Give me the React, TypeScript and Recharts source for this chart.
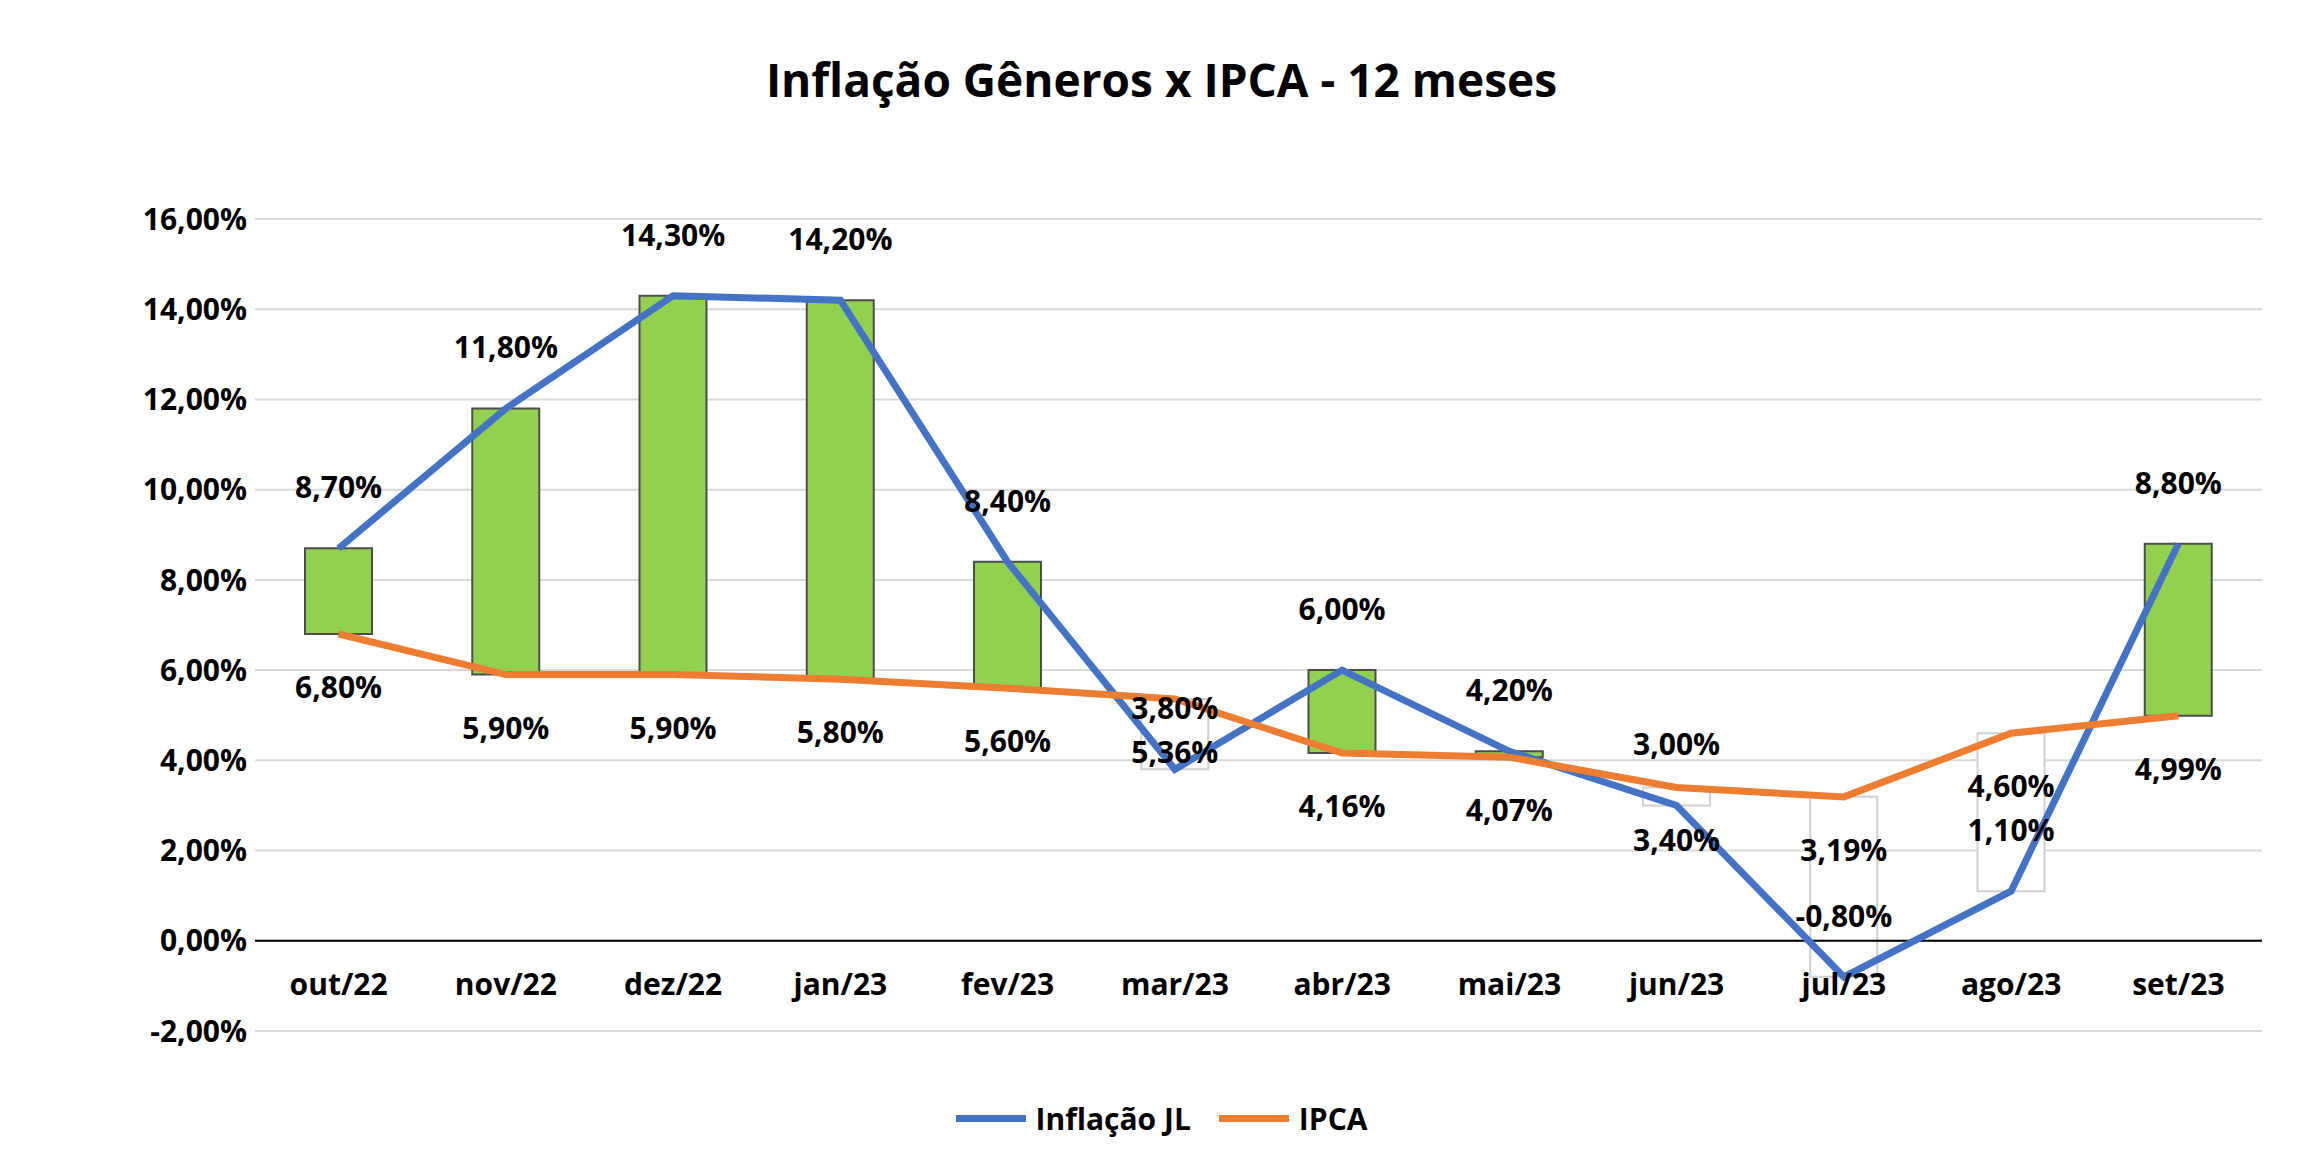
import React from "react";
import {
  ComposedChart,
  Line,
  Bar,
  Cell,
  XAxis,
  YAxis,
  CartesianGrid,
  ReferenceLine,
  LabelList,
} from "recharts";

const months = ["out/22", "nov/22", "dez/22", "jan/23", "fev/23", "mar/23", "abr/23", "mai/23", "jun/23", "jul/23", "ago/23", "set/23"];
const inflacaoJL = [8.7, 11.8, 14.3, 14.2, 8.4, 3.8, 6.0, 4.2, 3.0, -0.8, 1.1, 8.8];
const ipca = [6.8, 5.9, 5.9, 5.8, 5.6, 5.36, 4.16, 4.07, 3.4, 3.19, 4.6, 4.99];
const yTicks = [-2, 0, 2, 4, 6, 8, 10, 12, 14, 16];

const data = months.map((m, i) => ({
  month: m,
  jl: inflacaoJL[i],
  ipca: ipca[i],
  range: [Math.min(inflacaoJL[i], ipca[i]), Math.max(inflacaoJL[i], ipca[i])],
  up: inflacaoJL[i] >= ipca[i],
}));

const FONT = "'Open Sans', 'Liberation Sans', sans-serif";
const fmt = (v: number) => v.toFixed(2).replace(".", ",") + "%";

function makeLabel(dy: number) {
  return (props: any) => {
    const { x, y, value } = props;
    return (
      <text x={x} y={y + dy} textAnchor="middle" dominantBaseline="middle" fontFamily={FONT} fontWeight={700} fontSize={30} fill="#000">
        {fmt(value)}
      </text>
    );
  };
}

function XTick(props: any) {
  const { x, y, payload } = props;
  return (
    <text x={x} y={y - 52} textAnchor="middle" dominantBaseline="middle" fontFamily={FONT} fontWeight={700} fontSize={30} fill="#000">
      {payload.value}
    </text>
  );
}

function Legend() {
  const item = (color: string, label: string) => (
    <div style={{ display: "flex", alignItems: "center", margin: "0 14px" }}>
      <div style={{ width: 70, height: 7, background: color, marginRight: 10 }} />
      <span>{label}</span>
    </div>
  );
  return (
    <div style={{ position: "absolute", top: 1098, left: 0, width: 2323, display: "flex", justifyContent: "center", fontFamily: FONT, fontWeight: 700, fontSize: 30 }}>
      {item("#4472C4", "Inflação JL")}
      {item("#ED7D31", "IPCA")}
    </div>
  );
}

export default function App() {
  document.body.style.margin = "0";
  return (
    <div style={{ position: "relative", width: 2323, height: 1161, background: "#fff" }}>
      <div style={{ position: "absolute", top: 48, width: 2323, textAlign: "center", fontFamily: FONT, fontWeight: 700, fontSize: 46 }}>
        Inflação Gêneros x IPCA - 12 meses
      </div>
      <ComposedChart width={2323} height={1161} data={data} margin={{ top: 219, right: 61, bottom: 0, left: 0 }}>
        <CartesianGrid vertical={false} stroke="#d9d9d9" strokeWidth={2} />
        <XAxis dataKey="month" axisLine={false} tickLine={false} tick={<XTick />} height={130} interval={0} />
        <YAxis
          width={255}
          domain={[-2, 16]}
          ticks={yTicks}
          axisLine={false}
          tickLine={false}
          tickFormatter={fmt}
          tick={{ fontFamily: FONT, fontWeight: 700, fontSize: 30, fill: "#000" }}
        />
        <ReferenceLine y={0} stroke="#000" strokeWidth={2} />
        <Bar dataKey="range" barSize={67} isAnimationActive={false}>
          {data.map((d, i) => (
            <Cell key={i} fill={d.up ? "#92D050" : "#ffffff"} stroke={d.up ? "#4d4d4d" : "#d0d0d0"} strokeWidth={2} />
          ))}
        </Bar>
        <Line dataKey="jl" stroke="#4472C4" strokeWidth={7} dot={false} isAnimationActive={false}>
          <LabelList dataKey="jl" content={makeLabel(-58)} />
        </Line>
        <Line dataKey="ipca" stroke="#ED7D31" strokeWidth={7} dot={false} isAnimationActive={false}>
          <LabelList dataKey="ipca" content={makeLabel(56)} />
        </Line>
      </ComposedChart>
      <Legend />
    </div>
  );
}
